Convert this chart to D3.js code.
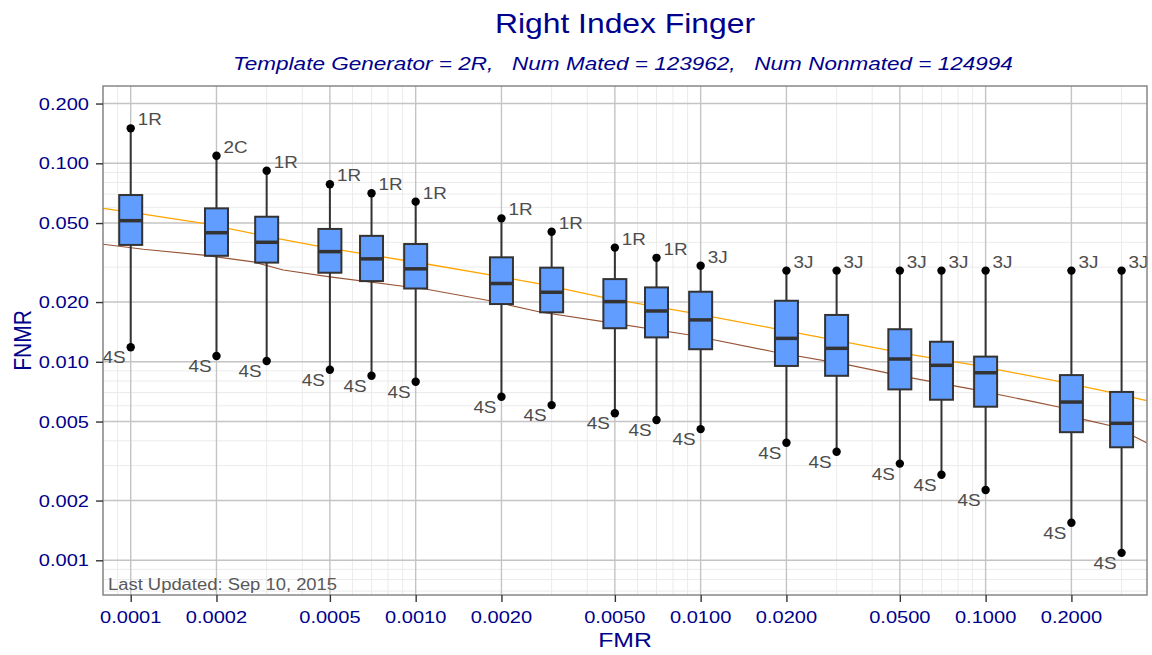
<!DOCTYPE html>
<html>
<head>
<meta charset="utf-8">
<script src="https://cdn.jsdelivr.net/npm/d3@7"></script>
<style>
  body { margin: 0; background: #fff; }
  text { font-family: "Liberation Sans", Arial, sans-serif; }
</style>
</head>
<body>
<div id="chart"></div>
<script>
// FMR levels of the boxes and their five numbers
const fmrLevels = [0.0001, 0.0002, 0.0003, 0.0005, 0.0007, 0.001, 0.002, 0.003, 0.005, 0.007,
                   0.01, 0.02, 0.03, 0.05, 0.07, 0.1, 0.2, 0.3];
const whiskerHigh = [0.150, 0.1092, 0.0918, 0.0784, 0.0706, 0.0641, 0.0528, 0.0452, 0.0376, 0.0334,
                     0.0305, 0.0288, 0.0288, 0.0288, 0.0288, 0.0288, 0.0288, 0.0288];
const q3 = [0.0692, 0.0593, 0.0538, 0.0467, 0.0431, 0.0392, 0.0336, 0.0298, 0.0261, 0.0237,
            0.02254, 0.0203, 0.01722, 0.01459, 0.01262, 0.01062, 0.00857, 0.00705];
const median = [0.0514, 0.0447, 0.0400, 0.0359, 0.0330, 0.0294, 0.0248, 0.0224, 0.0201, 0.01803,
                0.01626, 0.01312, 0.01169, 0.01033, 0.0096, 0.00881, 0.00627, 0.0049];
const q1 = [0.0388, 0.0342, 0.0316, 0.0281, 0.0255, 0.0234, 0.01954, 0.01775, 0.01476, 0.01327,
            0.01157, 0.00953, 0.0085, 0.00726, 0.00644, 0.00594, 0.00442, 0.00371];
const whiskerLow = [0.01183, 0.01069, 0.01009, 0.00912, 0.0085, 0.00794, 0.00667, 0.00605, 0.00551, 0.00509,
                    0.00458, 0.00391, 0.00352, 0.00307, 0.0027, 0.00226, 0.001546, 0.00109];
const highLabel = ['1R', '2C', '1R', '1R', '1R', '1R', '1R', '1R', '1R', '1R',
                   '3J', '3J', '3J', '3J', '3J', '3J', '3J', '3J'];
const lowLabel = ['4S', '4S', '4S', '4S', '4S', '4S', '4S', '4S', '4S', '4S',
                  '4S', '4S', '4S', '4S', '4S', '4S', '4S', '4S'];

// two DET curves
const orangeFmr = [8.0e-5, 1.107e-4, 1.798e-4, 3.253e-4, 5.0e-4, 1.093e-3, 1.823e-3, 2.73e-3, 4.55e-3,
                   9.17e-3, 0.01798, 0.03295, 0.0542, 0.0905, 0.1823, 0.2774, 0.3671];
const orangeFnmr = [0.0593, 0.0555, 0.0498, 0.0419, 0.0373, 0.0311, 0.0274, 0.0247, 0.0211,
                    0.01768, 0.01475, 0.01248, 0.0109, 0.00964, 0.00794, 0.00699, 0.00637];
const brownFmr = [8.0e-5, 1.107e-4, 1.798e-4, 2.69e-4, 3.43e-4, 5.0e-4, 1.093e-3, 1.823e-3, 2.73e-3,
                  4.55e-3, 9.17e-3, 0.01798, 0.03295, 0.0542, 0.0905, 0.1469, 0.1823, 0.2201, 0.2774,
                  0.3296, 0.3671];
const brownFnmr = [0.0391, 0.0369, 0.0345, 0.0319, 0.029, 0.0268, 0.0232, 0.0203, 0.01782,
                   0.01592, 0.01365, 0.01124, 0.00964, 0.00832, 0.00727, 0.0063, 0.0059, 0.00513, 0.00475,
                   0.00423, 0.00391];

const xMajor = [0.0001, 0.0002, 0.0005, 0.001, 0.002, 0.005, 0.01, 0.02, 0.05, 0.1, 0.2];
const yMajor = [0.001, 0.002, 0.005, 0.01, 0.02, 0.05, 0.1, 0.2];
const minorMult = [3, 4, 6, 7, 8, 9];

const titleText = 'Right Index Finger';
const subtitleText = 'Template Generator = 2R,   Num Mated = 123962,   Num Nonmated = 124994';
const footnote = 'Last Updated: Sep 10, 2015';

const W = 1152, H = 655;
const margin = { top: 86, right: 5, bottom: 60, left: 103 };
const SX = 1.18; // glyphs in the reference are a bit wider than tall
const ink = '#00008B';

const svg = d3.select('#chart').append('svg')
    .attr('width', W).attr('height', H);

const x = d3.scaleLog()
    .domain([Math.pow(10, -4.0972), Math.pow(10, -0.4337)])
    .range([margin.left, W - margin.right]);
const y = d3.scaleLog()
    .domain([Math.pow(10, -3.1748), Math.pow(10, -0.6106)])
    .range([H - margin.bottom, margin.top]);

function stretchedText(g, tx, ty, str, opts) {
    const t = g.append('text')
        .attr('transform', `translate(${tx},${ty}) ${opts.rotate ? 'rotate(-90) scale(1,' + SX + ')' : 'scale(' + SX + ',1)'}`)
        .attr('text-anchor', opts.anchor || 'start')
        .attr('font-size', opts.size)
        .attr('fill', opts.fill || ink)
        .style('white-space', 'pre')
        .text(str);
    if (opts.italic) t.attr('font-style', 'italic');
    return t;
}

// minor grid values
const [x0, x1] = x.domain(), [y0, y1] = y.domain();
const minorVals = (lo, hi) => {
    const out = [];
    for (let e = -5; e <= 0; e++) minorMult.forEach(m => {
        const v = m * Math.pow(10, e);
        if (v > lo && v < hi) out.push(v);
    });
    return out;
};

const grid = svg.append('g');
grid.selectAll('.xminor').data(minorVals(x0, x1)).enter().append('line')
    .attr('x1', d => x(d)).attr('x2', d => x(d))
    .attr('y1', margin.top).attr('y2', H - margin.bottom)
    .attr('stroke', '#EBEBEB').attr('stroke-width', 1);
grid.selectAll('.yminor').data(minorVals(y0, y1)).enter().append('line')
    .attr('y1', d => y(d)).attr('y2', d => y(d))
    .attr('x1', margin.left).attr('x2', W - margin.right)
    .attr('stroke', '#EBEBEB').attr('stroke-width', 1);
grid.selectAll('.xmajor').data(xMajor).enter().append('line')
    .attr('x1', d => x(d)).attr('x2', d => x(d))
    .attr('y1', margin.top).attr('y2', H - margin.bottom)
    .attr('stroke', '#C4C4C4').attr('stroke-width', 1.4);
grid.selectAll('.ymajor').data(yMajor).enter().append('line')
    .attr('y1', d => y(d)).attr('y2', d => y(d))
    .attr('x1', margin.left).attr('x2', W - margin.right)
    .attr('stroke', '#C4C4C4').attr('stroke-width', 1.4);

// DET curves
const curve = d3.line().x(d => x(d[0])).y(d => y(d[1]));
svg.append('path')
    .attr('d', curve(brownFmr.map((v, i) => [v, brownFnmr[i]])))
    .attr('fill', 'none').attr('stroke', '#995436').attr('stroke-width', 1.2);
svg.append('path')
    .attr('d', curve(orangeFmr.map((v, i) => [v, orangeFnmr[i]])))
    .attr('fill', 'none').attr('stroke', '#FFA500').attr('stroke-width', 1.3);

// boxes
const boxes = fmrLevels.map((f, i) => ({
    f, hi: whiskerHigh[i], q3: q3[i], med: median[i], q1: q1[i], lo: whiskerLow[i],
    hiLab: highLabel[i], loLab: lowLabel[i]
}));
const bw = 23;
const bg = svg.selectAll('.box').data(boxes).enter().append('g').attr('class', 'box');
bg.append('line')
    .attr('x1', d => x(d.f)).attr('x2', d => x(d.f))
    .attr('y1', d => y(d.hi)).attr('y2', d => y(d.lo))
    .attr('stroke', '#333').attr('stroke-width', 2);
bg.append('rect')
    .attr('x', d => x(d.f) - bw / 2).attr('width', bw)
    .attr('y', d => y(d.q3)).attr('height', d => y(d.q1) - y(d.q3))
    .attr('fill', '#619CFF').attr('stroke', '#333').attr('stroke-width', 2);
bg.append('line')
    .attr('x1', d => x(d.f) - bw / 2).attr('x2', d => x(d.f) + bw / 2)
    .attr('y1', d => y(d.med)).attr('y2', d => y(d.med))
    .attr('stroke', '#333').attr('stroke-width', 3.5);
bg.append('circle').attr('cx', d => x(d.f)).attr('cy', d => y(d.hi)).attr('r', 4.2).attr('fill', '#000');
bg.append('circle').attr('cx', d => x(d.f)).attr('cy', d => y(d.lo)).attr('r', 4.2).attr('fill', '#000');
bg.each(function (d) {
    const g = d3.select(this);
    stretchedText(g, x(d.f) + 7, y(d.hi) - 3, d.hiLab, { size: 16, fill: '#4D4D4D' });
    stretchedText(g, x(d.f) - 5, y(d.lo) + 16, d.loLab, { size: 16, fill: '#4D4D4D', anchor: 'end' });
});

// panel border
svg.append('rect')
    .attr('x', margin.left).attr('y', margin.top)
    .attr('width', W - margin.left - margin.right).attr('height', H - margin.top - margin.bottom)
    .attr('fill', 'none').attr('stroke', '#7F7F7F').attr('stroke-width', 1.4);

stretchedText(svg, margin.left + 5, H - margin.bottom - 5, footnote, { size: 15.6, fill: '#595959' });

// axes
const xAxis = svg.append('g').attr('transform', `translate(0,${H - margin.bottom})`)
    .call(d3.axisBottom(x).tickValues(xMajor).tickSize(7).tickFormat(''));
const yAxis = svg.append('g').attr('transform', `translate(${margin.left},0)`)
    .call(d3.axisLeft(y).tickValues(yMajor).tickSize(7).tickFormat(''));
[xAxis, yAxis].forEach(a => {
    a.select('.domain').remove();
    a.selectAll('.tick line').attr('stroke', '#333').attr('stroke-width', 1.4);
});
xMajor.forEach(v => stretchedText(svg, x(v), H - margin.bottom + 28, d3.format('.4f')(v), { size: 17, anchor: 'middle' }));
yMajor.forEach(v => stretchedText(svg, margin.left - 14, y(v) + 6, d3.format('.3f')(v), { size: 17, anchor: 'end' }));

// titles
const cx = (margin.left + W - margin.right) / 2;
stretchedText(svg, cx, 33, titleText, { size: 27, anchor: 'middle' });
stretchedText(svg, 623, 70, subtitleText, { size: 19.1, anchor: 'middle', italic: true });
stretchedText(svg, cx, 647, 'FMR', { size: 21, anchor: 'middle' });
stretchedText(svg, 31, (margin.top + H - margin.bottom) / 2, 'FNMR', { size: 21, anchor: 'middle', rotate: true });
</script>
</body>
</html>
